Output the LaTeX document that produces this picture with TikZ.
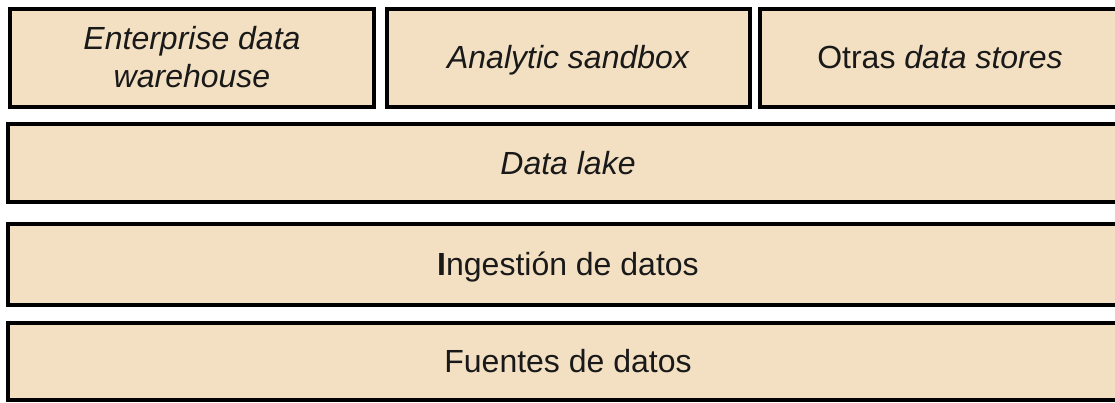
\documentclass[tikz,border=0pt]{standalone}
\usepackage{fontspec}
\setmainfont{Liberation Sans}
\definecolor{boxfill}{RGB}{243,224,194}
\begin{document}
\begin{tikzpicture}[x=1pt,y=-1pt,
  layer/.style={draw=black, line width=4pt, fill=boxfill, inner sep=0pt,
    font=\fontsize{32}{38}\selectfont, align=center, text=black!90,
    text height=22pt, text depth=0pt}]
\useasboundingbox (0,0) rectangle (1115,403);
\clip (0,0) rectangle (1115,403);
\node[layer, minimum width=364pt, minimum height=98pt, text height=60pt] (edw) at (192,58)
  {\textit{Enterprise data}\\\textit{warehouse}};
\node[layer, minimum width=363pt, minimum height=98pt] (sandbox) at (568.5,58)
  {\textit{Analytic sandbox}};
\node[layer, minimum width=360pt, minimum height=98pt] (stores) at (940,58)
  {Otras \textit{data stores}};
\node[layer, minimum width=1120pt, minimum height=78pt] (lake) at (568,163.5)
  {\textit{Data lake}};
\node[layer, minimum width=1120pt, minimum height=80pt] (ingest) at (568,264.5)
  {\textbf{I}ngestión de datos};
\node[layer, minimum width=1120pt, minimum height=77pt] (sources) at (568,361.5)
  {Fuentes de datos};
\end{tikzpicture}
\end{document}
